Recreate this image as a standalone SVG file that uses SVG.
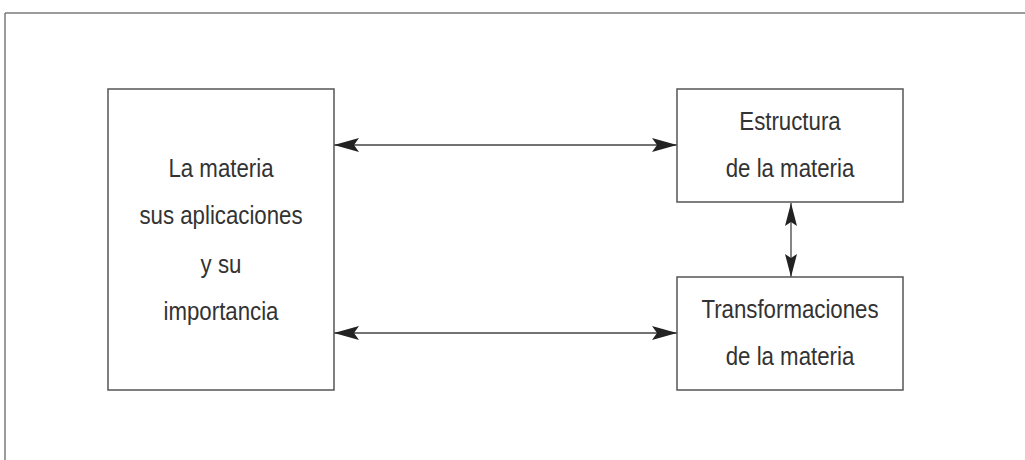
<svg xmlns="http://www.w3.org/2000/svg" width="1025" height="460" viewBox="0 0 1025 460">
<style>
.frame{fill:none;stroke:#7a7a7a;stroke-width:1.5}
.box{fill:#fff;stroke:#555;stroke-width:1.5}
.conn{fill:none;stroke:#444;stroke-width:1.3}
text{font-family:"Liberation Sans",Arial,sans-serif;font-size:25px;fill:#333;text-anchor:middle}
</style>
<defs>
<marker id="ah" markerUnits="userSpaceOnUse" markerWidth="26" markerHeight="16" refX="25" refY="7" orient="auto-start-reverse" viewBox="0 0 26 14">
<path d="M0,0 L25,7 L0,14 L5,7 z" fill="#222"/>
</marker>
<marker id="ahs" markerUnits="userSpaceOnUse" markerWidth="24" markerHeight="14" refX="23" refY="6" orient="auto-start-reverse" viewBox="0 0 24 12">
<path d="M0,0 L23,6 L0,12 L4,6 z" fill="#222"/>
</marker>
</defs>
<g id="frame">
<line class="frame" x1="5" y1="13" x2="1025" y2="13"/>
<line class="frame" x1="5" y1="13" x2="5" y2="460"/>
</g>
<g id="connectors">
<line class="conn" x1="334" y1="145" x2="677" y2="145" marker-start="url(#ah)" marker-end="url(#ah)"/>
<line class="conn" x1="334" y1="333" x2="677" y2="333" marker-start="url(#ah)" marker-end="url(#ah)"/>
<line class="conn" x1="791" y1="203" x2="791" y2="277" marker-start="url(#ahs)" marker-end="url(#ahs)"/>
</g>
<g id="node-materia">
<rect class="box" x="108" y="89" width="226" height="301"/>
<g transform="translate(221,0) scale(0.89,1)">
<text x="0" y="177">La materia</text>
<text x="0" y="224">sus aplicaciones</text>
<text x="0" y="273">y su</text>
<text x="0" y="320">importancia</text>
</g>
</g>
<g id="node-estructura">
<rect class="box" x="677" y="89" width="226" height="113"/>
<g transform="translate(790,0) scale(0.89,1)">
<text x="0" y="130">Estructura</text>
<text x="0" y="177">de la materia</text>
</g>
</g>
<g id="node-transformaciones">
<rect class="box" x="677" y="277" width="226" height="113"/>
<g transform="translate(790,0) scale(0.89,1)">
<text x="0" y="318">Transformaciones</text>
<text x="0" y="365">de la materia</text>
</g>
</g>
</svg>
